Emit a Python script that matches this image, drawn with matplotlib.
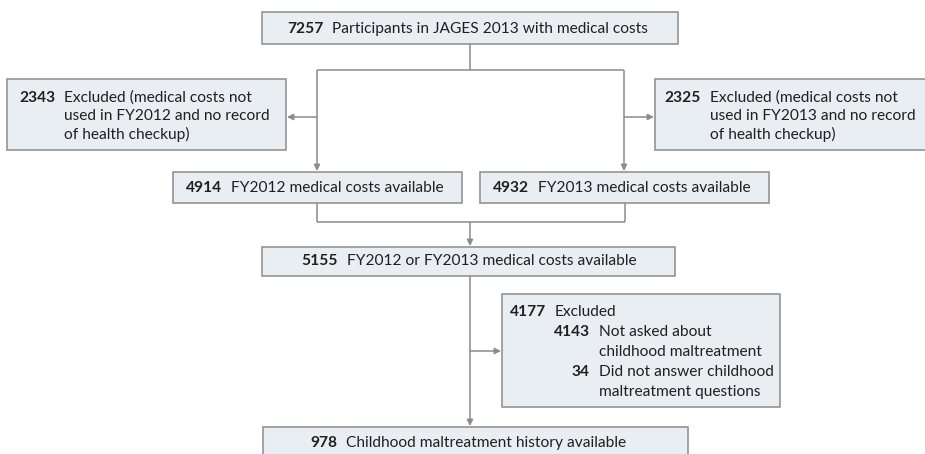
import matplotlib.pyplot as plt
from matplotlib.patches import Rectangle

# counts and labels for the flow boxes
counts = {
    'start': '7257', 'excl12': '2343', 'excl13': '2325',
    'fy12': '4914', 'fy13': '4932', 'either': '5155',
    'excl_ct': '4177', 'not_asked': '4143', 'no_answer': '34', 'final': '978',
}
labels = {
    'start': ['Participants in JAGES 2013 with medical costs'],
    'excl12': ['Excluded (medical costs not', 'used in FY2012 and no record', 'of health checkup)'],
    'excl13': ['Excluded (medical costs not', 'used in FY2013 and no record', 'of health checkup)'],
    'fy12': ['FY2012 medical costs available'],
    'fy13': ['FY2013 medical costs available'],
    'either': ['FY2012 or FY2013 medical costs available'],
    'excl_ct': ['Excluded'],
    'not_asked': ['Not asked about', 'childhood maltreatment'],
    'no_answer': ['Did not answer childhood', 'maltreatment questions'],
    'final': ['Childhood maltreatment history available'],
}

# layout in pixel units: box (x0, y0, x1, y1)
boxes = {
    'start': (262, 12, 678, 44),
    'excl12': (7, 79, 286, 150),
    'excl13': (655, 79, 926, 150),
    'fy12': (173, 172, 462, 203),
    'fy13': (480, 172, 769, 203),
    'either': (262, 247, 675, 276),
    'excl_ct': (502, 294, 780, 407),
    'final': (263, 427, 688, 470),
}
# (number right edge, first line y, line spacing)
text_pos = {
    'start': (323, 29, 18), 'excl12': (55, 98, 18), 'excl13': (701, 98, 18),
    'fy12': (222, 188, 18), 'fy13': (529, 188, 18), 'either': (338, 261, 18),
    'excl_ct': (546, 312, 20), 'not_asked': (590, 332, 20),
    'no_answer': (590, 372, 20), 'final': (337, 443, 18),
}

plt.rcParams['font.family'] = ['Lato', 'DejaVu Sans']
FS = 11.2
TXT = '#231f20'
LINE_C = '#8c8c8c'
FILL = '#e8eef2'

fig = plt.figure(figsize=(9.25, 4.54), dpi=100)
ax = fig.add_axes([0, 0, 1, 1])
ax.set_xlim(0, 925)
ax.set_ylim(454, 0)
ax.axis('off')

for key, (x0, y0, x1, y1) in boxes.items():
    ax.add_patch(Rectangle((x0, y0), x1 - x0, y1 - y0, facecolor=FILL,
                           edgecolor=LINE_C, linewidth=1.1))

for key, (xn, y, lh) in text_pos.items():
    ax.text(xn, y, counts[key], ha='right', va='center', fontsize=FS,
            fontweight='bold', color=TXT)
    for i, line in enumerate(labels[key]):
        ax.text(xn + 9, y + i * lh, line, ha='left', va='center',
                fontsize=FS, color=TXT)


def line(xs, ys):
    ax.plot(xs, ys, color=LINE_C, linewidth=1.1, solid_capstyle='butt')


def arrow(x0, y0, x1, y1):
    ax.annotate('', xy=(x1, y1), xytext=(x0, y0),
                arrowprops=dict(arrowstyle='-|>', color=LINE_C, lw=1.1,
                                mutation_scale=9, shrinkA=0, shrinkB=0))


# top split
line([470, 470], [44, 70])
line([317, 624], [70, 70])
line([317, 317], [70, 117])
line([624, 624], [70, 117])
arrow(317, 117, 317, 171)
arrow(624, 117, 624, 171)
arrow(317, 117, 287, 117)
arrow(624, 117, 654, 117)

# merge
line([317, 317], [203, 222])
line([625, 625], [203, 222])
line([317, 625], [222, 222])
arrow(470, 222, 470, 246)

# final branch
line([470, 470], [276, 351])
arrow(470, 351, 470, 426)
arrow(470, 351, 501, 351)

fig.savefig('out.png', dpi=100)
